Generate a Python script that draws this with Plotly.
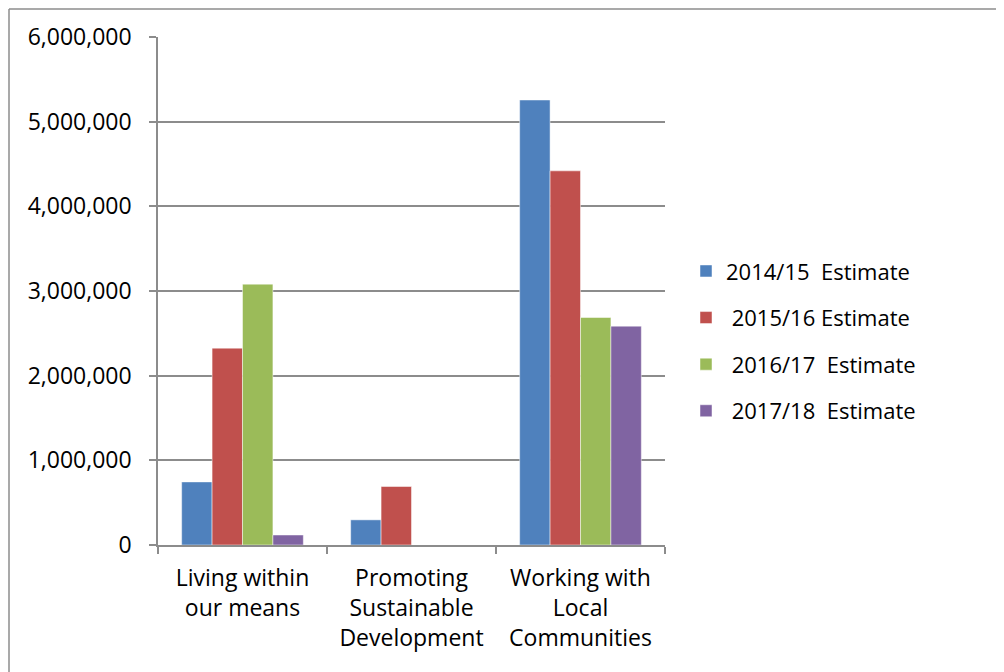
import plotly.graph_objects as go

categories = ["Living within<br>our means", "Promoting<br>Sustainable<br>Development", "Working with<br>Local<br>Communities"]
series_names = ["2014/15\u00a0\u00a0Estimate", "\u00a02015/16 Estimate", "\u00a02016/17\u00a0\u00a0Estimate", "\u00a02017/18\u00a0\u00a0Estimate"]
v2014 = [745000, 297000, 5256000]
v2015 = [2325000, 691000, 4419000]
v2016 = [3081000, None, 2687000]
v2017 = [118000, None, 2585000]
colors = ["#4F81BD", "#C0504D", "#9BBB59", "#8064A2"]
y_ticks = [0, 1000000, 2000000, 3000000, 4000000, 5000000, 6000000]
y_tick_labels = ["0", "1,000,000", "2,000,000", "3,000,000", "4,000,000", "5,000,000", "6,000,000"]

OFF = 8  # default page body margin
W, H = 1004 - OFF, 672 - OFF
# plot area in page pixels
L, R, T, B = 158, 665, 35, 545
FONT = "Open Sans"

fig = go.Figure()
for i, (name, vals) in enumerate(zip(series_names, [v2014, v2015, v2016, v2017])):
    fig.add_trace(go.Bar(
        x=categories, y=vals, name=name, legendgroup=f"g{i}",
        marker=dict(color=colors[i], line=dict(color="rgba(255,255,255,0.6)", width=0.8)),
    ))

pw, ph = R - L, B - T
def px_x(x):
    return (x - L) / pw
def px_y(y):
    return (B - y) / ph

fig.update_layout(
    width=W, height=H,
    margin=dict(l=L - OFF, r=W - (R - OFF), t=T - OFF, b=H - (B - OFF), pad=0),
    paper_bgcolor="white", plot_bgcolor="white",
    barmode="group", bargap=0.28, bargroupgap=0,
    font=dict(family=FONT, size=23, color="#000000"),
    legend=dict(x=px_x(686), y=px_y(249), xanchor="left", yanchor="top",
                font=dict(family=FONT, size=22, color="#000000"),
                tracegroupgap=15, itemwidth=30, bgcolor="rgba(0,0,0,0)"),
    xaxis=dict(type="category", showline=True, linecolor="#8c8c8c", linewidth=1.5,
               ticks="outside", ticklen=7, tickcolor="#8c8c8c", tickwidth=1.5,
               tickson="boundaries", showgrid=False, range=[-0.5, 2.5],
               ticklabelstandoff=12,
               tickfont=dict(family=FONT, size=23, color="#000000")),
    yaxis=dict(range=[0, 6000000], tickvals=y_ticks, ticktext=y_tick_labels,
               showline=True, linecolor="#8c8c8c", linewidth=1.5,
               ticks="outside", ticklen=7, tickcolor="#8c8c8c", tickwidth=1.5,
               showgrid=True, gridcolor="#8c8c8c", gridwidth=1.5,
               zeroline=False, ticklabelstandoff=13,
               tickfont=dict(family=FONT, size=23, color="#000000")),
    shapes=[
        dict(type="line", xref="paper", yref="paper", x0=px_x(9), x1=px_x(9),
             y0=px_y(7), y1=px_y(700), line=dict(color="#8c8c8c", width=1.5)),
        dict(type="line", xref="paper", yref="paper", x0=px_x(9), x1=px_x(1010),
             y0=px_y(7), y1=px_y(7), line=dict(color="#8c8c8c", width=1.5)),
    ],
)

fig.write_html("out.html")
